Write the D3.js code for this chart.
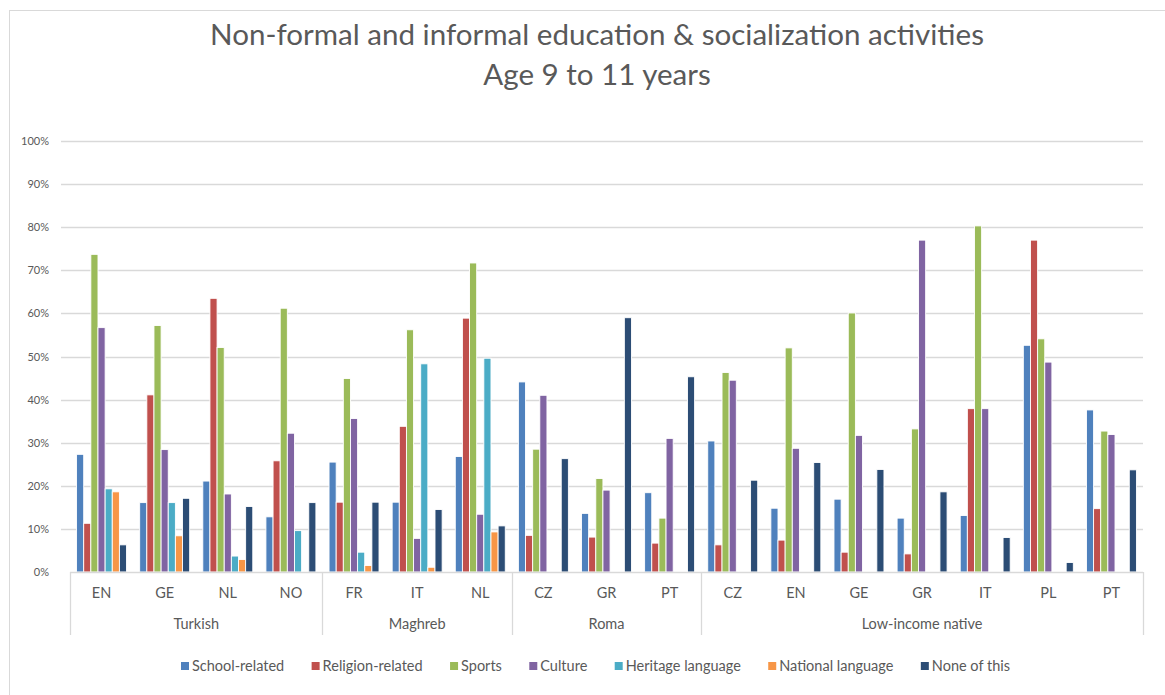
<!DOCTYPE html>
<html>
<head>
<meta charset="utf-8">
<script src="https://cdn.jsdelivr.net/npm/d3@7"></script>
<style>
  html, body { margin: 0; padding: 0; background: #fff; }
  svg { display: block; }
  text { font-family: Lato, "Open Sans", sans-serif; fill: #595959; }
</style>
</head>
<body>
<svg id="chart" width="1165" height="695"></svg>
<script>
// ---------------- DATA ----------------
const titleLines = ["Non-formal and informal education & socialization activities", "Age 9 to 11 years"];
const groups = ["Turkish", "Maghreb", "Roma", "Low-income native"];
const subcategories = [
  ["EN", "GE", "NL", "NO"],
  ["FR", "IT", "NL"],
  ["CZ", "GR", "PT"],
  ["CZ", "EN", "GE", "GR", "IT", "PL", "PT"]
];
const seriesNames = ["School-related", "Religion-related", "Sports", "Culture", "Heritage language", "National language", "None of this"];
const schoolRelated   = [27.3, 16.1, 21.1, 12.8, 25.5, 16.2, 26.8, 44.1, 13.6, 18.4, 30.4, 14.8, 16.9, 12.5, 13.1, 52.6, 37.6];
const religionRelated = [11.3, 41.1, 63.5, 25.8, 16.2, 33.8, 58.9, 8.5, 8.1, 6.7, 6.3, 7.4, 4.6, 4.2, 37.9, 77.0, 14.7];
const sports          = [73.7, 57.2, 52.1, 61.2, 44.9, 56.2, 71.7, 28.5, 21.7, 12.5, 46.3, 52.0, 60.1, 33.2, 80.3, 54.1, 32.7];
const culture         = [56.7, 28.4, 18.1, 32.2, 35.6, 7.8, 13.4, 41.0, 19.0, 31.0, 44.5, 28.7, 31.7, 77.0, 37.9, 48.7, 31.9];
const heritageLang    = [19.3, 16.1, 3.7, 9.6, 4.6, 48.3, 49.6, null, null, null, null, null, null, null, null, null, null];
const nationalLang    = [18.6, 8.4, 2.9, null, 1.5, 1.1, 9.3, null, null, null, null, null, null, null, null, null, null];
const noneOfThis      = [6.3, 17.1, 15.2, 16.1, 16.2, 14.5, 10.7, 26.3, 59.0, 45.3, 21.3, 25.4, 23.8, 18.6, 8.0, 2.2, 23.7];
const seriesValues = [schoolRelated, religionRelated, sports, culture, heritageLang, nationalLang, noneOfThis];
const colors = ["#4F81BD", "#C0504D", "#9BBB59", "#8064A2", "#4BACC6", "#F79646", "#2C4D75"];
const yTicks = [0, 10, 20, 30, 40, 50, 60, 70, 80, 90, 100];

// ---------------- LAYOUT ----------------
const plot = { left: 70, right: 1143, top: 141, bottom: 572 };
const svg = d3.select("#chart");

// chart area border (top and left visible)
svg.append("rect")
  .attr("x", 9.5).attr("y", 10.5)
  .attr("width", 1200).attr("height", 720)
  .attr("fill", "none").attr("stroke", "#d9d9d9").attr("stroke-width", 1);

// flatten categories
const cats = [];
subcategories.forEach((subs, gi) => subs.forEach((s, si) => cats.push({ key: gi + "-" + si, label: s, group: gi })));

const x = d3.scaleBand().domain(cats.map(c => c.key)).range([plot.left, plot.right]).padding(0);
const xs = d3.scaleBand().domain(seriesNames).range([0, x.bandwidth()]).paddingInner(0).paddingOuter(0.92);
const y = d3.scaleLinear().domain([0, 100]).range([plot.bottom, plot.top]);

// gridlines
svg.append("g").selectAll("line").data(yTicks.filter(t => t > 0)).join("line")
  .attr("x1", 61).attr("x2", plot.right)
  .attr("y1", d => Math.round(y(d)) + 0.5).attr("y2", d => Math.round(y(d)) + 0.5)
  .attr("stroke", "#d9d9d9").attr("stroke-width", 1.3);

// y axis labels
const yAxis = d3.axisLeft(y).tickValues(yTicks).tickFormat(d => d + "%").tickSize(0).tickPadding(0);
const yg = svg.append("g").attr("transform", `translate(49,0)`).call(yAxis);
yg.select(".domain").remove();
yg.selectAll("text").style("font-size", "11px").attr("fill", "#595959")
  .style("font-family", "Lato, 'Open Sans', sans-serif");

// bars
const barData = [];
seriesValues.forEach((vals, si) => vals.forEach((v, ci) => {
  if (v !== null) barData.push({ s: seriesNames[si], si, cat: cats[ci].key, v });
}));
svg.append("g").selectAll("rect").data(barData).join("rect")
  .attr("x", d => x(d.cat) + xs(d.s))
  .attr("y", d => y(d.v))
  .attr("width", xs.bandwidth())
  .attr("height", d => y(0) - y(d.v))
  .attr("fill", d => colors[d.si])
  .attr("stroke", "#ffffff").attr("stroke-width", 0.9);

// category axis
const axisColor = "#d9d9d9";
const ax = svg.append("g");
ax.append("line").attr("x1", plot.left).attr("x2", plot.right)
  .attr("y1", plot.bottom + 0.5).attr("y2", plot.bottom + 0.5)
  .attr("stroke", axisColor).attr("stroke-width", 1.3);
// group separators
const boundaries = [plot.left];
let idx = 0;
subcategories.forEach(subs => { idx += subs.length; boundaries.push(idx < cats.length ? x(cats[idx].key) : plot.right); });
ax.selectAll("line.sep").data(boundaries).join("line").attr("class", "sep")
  .attr("x1", d => Math.round(d) + 0.5).attr("x2", d => Math.round(d) + 0.5)
  .attr("y1", plot.bottom).attr("y2", 635)
  .attr("stroke", axisColor).attr("stroke-width", 1.3);

// subcategory labels
ax.selectAll("text.sub").data(cats).join("text").attr("class", "sub")
  .attr("x", d => x(d.key) + x.bandwidth() / 2)
  .attr("y", 598)
  .attr("text-anchor", "middle")
  .style("font-size", "14.5px")
  .text(d => d.label);
// group labels
ax.selectAll("text.grp").data(groups).join("text").attr("class", "grp")
  .attr("x", (d, i) => (boundaries[i] + boundaries[i + 1]) / 2)
  .attr("y", 629)
  .attr("text-anchor", "middle")
  .style("font-size", "14.5px")
  .text(d => d);

// title
const titleCenter = 597;
const t1 = svg.append("text").attr("x", titleCenter).attr("y", 45).attr("text-anchor", "middle")
  .style("font-size", "28px").text(titleLines[0]);
const w1 = t1.node().getComputedTextLength();
const fs = 28 * 774 / w1;
t1.style("font-size", fs + "px");
svg.append("text").attr("x", titleCenter).attr("y", 85).attr("text-anchor", "middle")
  .style("font-size", fs + "px").text(titleLines[1]);

// legend
const lg = svg.append("g");
const items = [];
seriesNames.forEach((name, i) => {
  const g = lg.append("g");
  g.append("rect").attr("x", 0).attr("y", -4).attr("width", 8).attr("height", 8).attr("fill", colors[i]);
  const t = g.append("text").attr("x", 11).attr("y", 5).style("font-size", "14.5px").text(name);
  const w = 11 + t.node().getComputedTextLength();
  items.push({ g, w });
});
const legendStart = 181, legendEnd = 1010;
const gap = (legendEnd - legendStart - d3.sum(items, d => d.w)) / (items.length - 1);
let cursor = legendStart;
items.forEach(it => { it.g.attr("transform", `translate(${cursor},666)`); cursor += it.w + gap; });
</script>
</body>
</html>
